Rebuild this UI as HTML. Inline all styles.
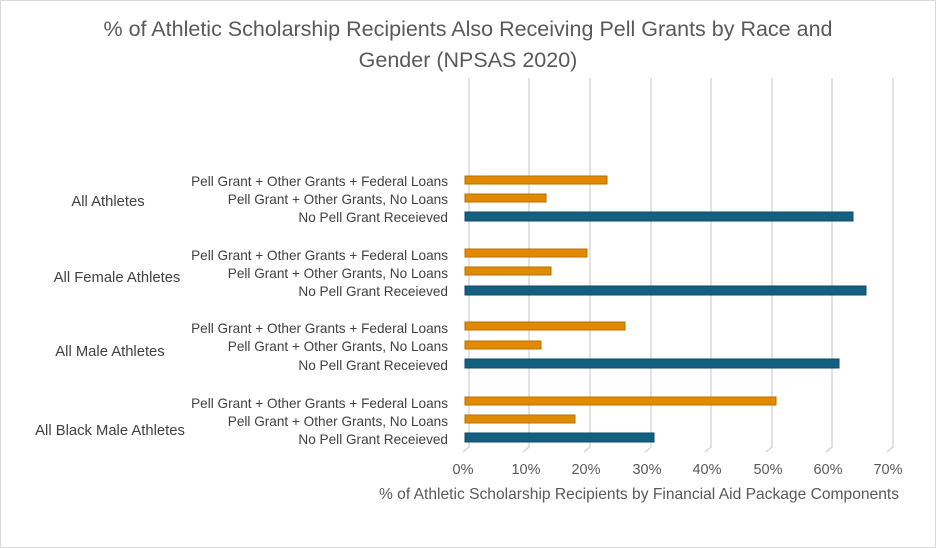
<!DOCTYPE html>
<html><head><style>
body{margin:0;background:#fff}
svg{display:block;font-family:"Liberation Sans",sans-serif}
</style></head><body>
<svg width="936" height="548" viewBox="0 0 936 548">
<rect x="0.5" y="0.5" width="935" height="547" fill="#fff" stroke="#d9d9d9"/>
<text x="468" y="36" text-anchor="middle" font-size="21.5" fill="#595959">% of Athletic Scholarship Recipients Also Receiving Pell Grants by Race and</text>
<text x="468" y="67" text-anchor="middle" font-size="21.5" fill="#595959">Gender (NPSAS 2020)</text>
<g stroke="#d9d9d9" stroke-width="1.5" fill="none">
<path d="M469 78V447L463 452"/><path d="M529 78V447L523 452"/><path d="M590 78V447L584 452"/><path d="M651 78V447L645 452"/>
<path d="M711 78V447L705 452"/><path d="M772 78V447L766 452"/><path d="M832 78V447L826 452"/><path d="M893 78V447L887 452"/>
</g>
<g font-size="14.5" fill="#595959" text-anchor="middle">
<text x="463" y="474">0%</text><text x="526" y="474">10%</text><text x="586" y="474">20%</text><text x="647" y="474">30%</text>
<text x="707" y="474">40%</text><text x="768" y="474">50%</text><text x="828" y="474">60%</text><text x="888" y="474">70%</text>
</g>
<text x="639" y="499" text-anchor="middle" font-size="15.6" fill="#595959">% of Athletic Scholarship Recipients by Financial Aid Package Components</text>
<g font-size="13.6" fill="#404040" text-anchor="end">
<text x="448" y="186">Pell Grant + Other Grants + Federal Loans</text><text x="448" y="204">Pell Grant + Other Grants, No Loans</text><text x="448" y="222">No Pell Grant Receieved</text>
<text x="448" y="260">Pell Grant + Other Grants + Federal Loans</text><text x="448" y="278">Pell Grant + Other Grants, No Loans</text><text x="448" y="296">No Pell Grant Receieved</text>
<text x="448" y="333">Pell Grant + Other Grants + Federal Loans</text><text x="448" y="351">Pell Grant + Other Grants, No Loans</text><text x="448" y="370">No Pell Grant Receieved</text>
<text x="448" y="408">Pell Grant + Other Grants + Federal Loans</text><text x="448" y="426">Pell Grant + Other Grants, No Loans</text><text x="448" y="444">No Pell Grant Receieved</text>
</g>
<g font-size="14.8" fill="#404040" text-anchor="middle">
<text x="108" y="206">All Athletes</text><text x="117" y="282">All Female Athletes</text>
<text x="110" y="356">All Male Athletes</text><text x="110" y="435">All Black Male Athletes</text>
</g>
<g>
<rect x="465" y="176" width="142" height="8" fill="#e08a00" stroke="#b86f00" stroke-width="1"/>
<rect x="465" y="194" width="81" height="8" fill="#e08a00" stroke="#b86f00"/>
<rect x="465" y="212" width="388" height="9" fill="#155f80" stroke="#0e4a66"/>
<rect x="465" y="249" width="122" height="8" fill="#e08a00" stroke="#b86f00"/>
<rect x="465" y="267" width="86" height="8" fill="#e08a00" stroke="#b86f00"/>
<rect x="465" y="286" width="401" height="9" fill="#155f80" stroke="#0e4a66"/>
<rect x="465" y="322" width="160" height="8" fill="#e08a00" stroke="#b86f00"/>
<rect x="465" y="341" width="76" height="8" fill="#e08a00" stroke="#b86f00"/>
<rect x="465" y="359" width="374" height="9" fill="#155f80" stroke="#0e4a66"/>
<rect x="465" y="397" width="311" height="8" fill="#e08a00" stroke="#b86f00"/>
<rect x="465" y="415" width="110" height="8" fill="#e08a00" stroke="#b86f00"/>
<rect x="465" y="433" width="189" height="9" fill="#155f80" stroke="#0e4a66"/>
</g>
</svg>
</body></html>
